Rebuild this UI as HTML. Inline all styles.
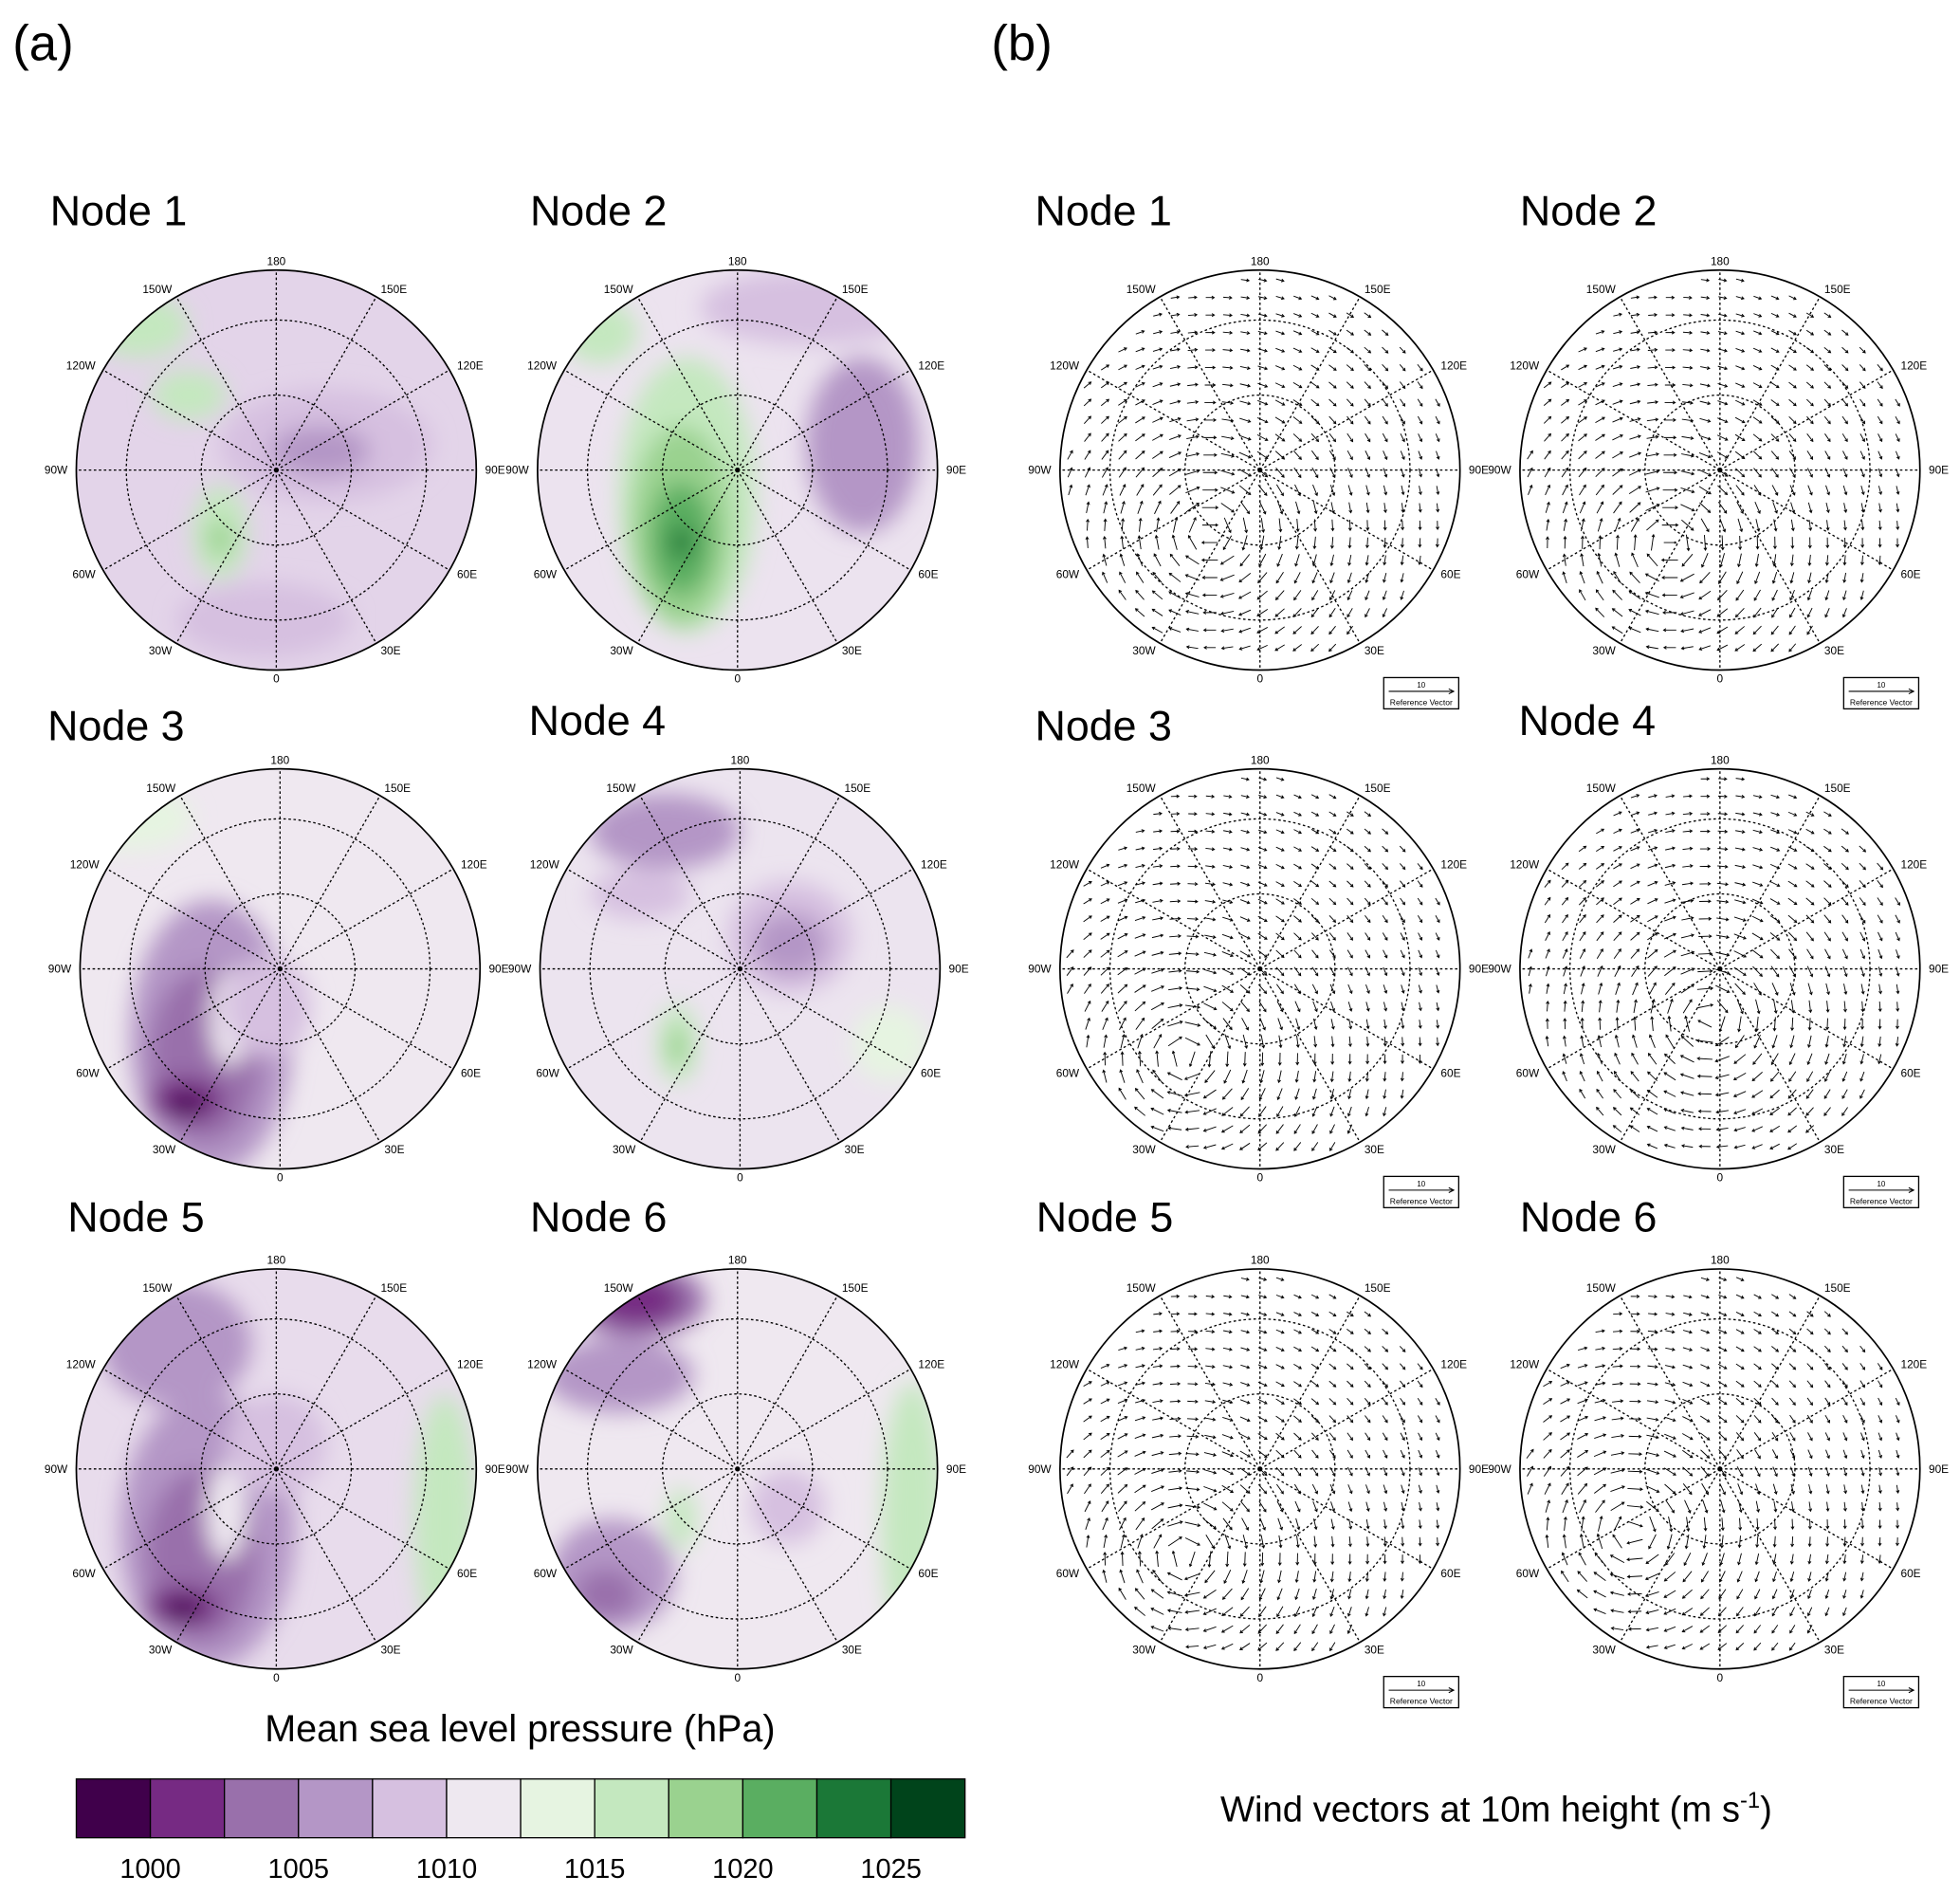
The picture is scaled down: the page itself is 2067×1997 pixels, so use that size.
<!DOCTYPE html>
<html><head><meta charset="utf-8"><style>
html,body{margin:0;padding:0;background:#fff}
svg{display:block}
text{font-family:"Liberation Sans",sans-serif}
</style></head><body>
<svg id="fig" width="2067" height="1997" viewBox="0 0 1568 1515" xmlns="http://www.w3.org/2000/svg">
<defs><filter id="blur" x="-50%" y="-50%" width="200%" height="200%"><feGaussianBlur stdDeviation="9"/></filter></defs>
<text x="10" y="48" font-size="40">(a)</text>
<text x="793" y="48" font-size="40">(b)</text>
<g id="maps"></g>
<text x="416" y="1393" font-size="30" text-anchor="middle">Mean sea level pressure (hPa)</text>
<g id="cbar"></g>
<text x="1197" y="1457" font-size="29" text-anchor="middle">Wind vectors at 10m height (m s<tspan dy="-11" font-size="18">-1</tspan><tspan dy="11">)</tspan></text>
</svg>
<script>
const levels=[1000,1005,1010,1015,1020,1025];
const cbColors=["#40004b","#762a83","#9970ab","#b496c6","#d6c0e0","#eee8f0","#e6f4e1","#c4e8bf","#9ad28f","#5aae61","#1b7837","#00441b"];
const nodeNames=["Node 1","Node 2","Node 3","Node 4","Node 5","Node 6"];
const nodeBase=["#e3d4e9","#ece3ef","#efe8f0","#ece4ef","#e8dcec","#efe8f0"];
// blobs: [node, dx, dy, rx, ry, colorIndex]
const blobs=[
[0,-110,-115,40,25,7],[0,-70,-60,30,20,7],[0,40,-20,85,45,4],[0,35,-15,40,20,3],[0,-45,50,22,38,7],[0,-45,55,10,14,8],[0,-10,120,70,30,4],
[1,-40,20,55,110,7],[1,-45,45,40,80,8],[1,-45,55,25,45,9],[1,-45,58,10,12,10],[1,100,-20,45,70,3],[1,60,-130,90,30,4],[1,-110,-110,30,25,7],
[2,-120,-120,50,25,6],[2,-55,55,65,110,3],[2,-60,70,45,70,2],[2,-75,105,30,18,1],[2,-75,108,14,8,0],[2,-40,40,16,38,5],[2,-10,30,35,40,4],
[3,-60,-110,60,30,3],[3,-80,-60,40,20,4],[3,40,-25,50,45,4],[3,40,-20,30,25,3],[3,-50,60,16,32,7],[3,-50,62,8,15,8],[3,120,60,30,30,6],
[4,-80,-100,60,50,3],[4,-55,50,70,110,3],[4,-60,70,45,70,2],[4,-75,110,30,16,1],[4,-75,112,14,8,0],[4,-40,35,16,38,5],[4,135,40,25,100,7],[4,0,-20,40,40,4],
[5,-80,-135,55,30,2],[5,-80,-135,35,20,1],[5,-95,-75,60,30,3],[5,-100,85,50,45,3],[5,-105,100,25,20,2],[5,-45,40,12,25,7],[5,140,40,25,110,7],[5,40,30,30,30,4]
];
const aCenters=[[221,376],[590,376],[224,775],[592,775],[221,1175],[590,1175]];
const bCenters=[[1008,376],[1376,376],[1008,775],[1376,775],[1008,1175],[1376,1175]];
const titlePos=[[40,180],[424,180],[38,592],[423,588],[54,985],[424,985]];
const titlePosB=[[828,180],[1216,180],[828,592],[1215,588],[829,985],[1216,985]];
const lonLabels=["180","150E","120E","90E","60E","30E","0","30W","60W","90W","120W","150W"];
const R=160, NS="http://www.w3.org/2000/svg";
const maps=document.getElementById('maps');
function el(t,a,p){const e=document.createElementNS(NS,t);for(const k in a)e.setAttribute(k,a[k]);(p||maps).appendChild(e);return e;}
function grid(g,cx,cy){
  [0.375,0.75].forEach(f=>{const c=el('circle',{cx,cy,r:R*f,fill:'none',stroke:'#000','stroke-width':1,'stroke-dasharray':'2,2'},g);});
  for(let i=0;i<12;i++){const a=i*Math.PI/6;const x=cx+R*Math.sin(a),y=cy-R*Math.cos(a);
    const l=el('line',{x1:cx,y1:cy,x2:x,y2:y,stroke:'#000','stroke-width':1,'stroke-dasharray':'2,2'},g);
    
    const lx=cx+(R+7)*Math.sin(a),ly=cy-(R+7)*Math.cos(a)+3;
    const t=el('text',{x:lx,y:ly,'font-size':9,'text-anchor':Math.abs(Math.sin(a))<0.3?'middle':(Math.sin(a)>0?'start':'end')},g);
    
    t.textContent=lonLabels[i];}
  const o=el('circle',{cx,cy,r:R,fill:'none',stroke:'#000','stroke-width':1.3},g);
  
}
aCenters.forEach(([cx,cy],n)=>{
  const g=el('g',{});
  const clip=el('clipPath',{id:'c'+n},g);
  el('circle',{cx,cy,r:R},clip);
  const inner=el('g',{'clip-path':'url(#c'+n+')'},g);
  el('rect',{x:cx-R,y:cy-R,width:2*R,height:2*R,fill:nodeBase[n]},inner);
  const bg=el('g',{filter:'url(#blur)'},inner);
  blobs.filter(b=>b[0]===n).forEach(b=>{const e=el('ellipse',{cx:cx+b[1],cy:cy+b[2],rx:b[3],ry:b[4],fill:cbColors[b[5]]},bg);
    });
  grid(g,cx,cy);
  const t=el('text',{x:titlePos[n][0],y:titlePos[n][1],'font-size':34},g);
  t.textContent=nodeNames[n];
});
bCenters.forEach(([cx,cy],n)=>{
  const g=el('g',{});
  const ag=el('g',{stroke:'#000','stroke-width':0.7,fill:'none'},g);
  const vc=[[-40,50],[-40,60],[-60,70],[-10,40],[-60,70],[-70,50]][n];
  for(let y=-R+8;y<R;y+=14)for(let x=-R+8;x<R;x+=14){
    if(x*x+y*y>(R-6)*(R-6))continue;
    const dx=x-vc[0],dy=y-vc[1];const d=Math.hypot(dx,dy)+1;
    let ux=-dy/d,uy=dx/d;const L=2.5+5*Math.exp(-d/110);
    const x0=cx+x-ux*L,y0=cy+y-uy*L,x1=cx+x+ux*L,y1=cy+y+uy*L;
    const p=el('path',{d:`M${x0},${y0}L${x1},${y1}M${x1-ux*2-uy*1.2},${y1-uy*2+ux*1.2}L${x1},${y1}L${x1-ux*2+uy*1.2},${y1-uy*2-ux*1.2}`},ag);
    }
  grid(g,cx,cy);
  const t=el('text',{x:titlePosB[n][0],y:titlePosB[n][1],'font-size':34},g);
  t.textContent=nodeNames[n];
  const bx=cx+99,by=cy+166;
  const rb=el('rect',{x:bx,y:by,width:60,height:25,fill:'#fff',stroke:'#000','stroke-width':1},g);
  
  el('path',{d:`M${bx+4},${by+11}H${bx+56}M${bx+52},${by+9}L${bx+56},${by+11}L${bx+52},${by+13}`,stroke:'#000',fill:'none','stroke-width':0.8},g);
  const t1=el('text',{x:bx+30,y:by+8,'font-size':6,'text-anchor':'middle'},g);t1.textContent='10';
  
  const t2=el('text',{x:bx+30,y:by+22,'font-size':6.5,'text-anchor':'middle'},g);t2.textContent='Reference Vector';
  
});
const cb=document.getElementById('cbar');
const x0=61,x1=772,w=(x1-x0)/cbColors.length;
cbColors.forEach((c,i)=>{const r=el('rect',{x:x0+i*w,y:1423,width:w,height:47,fill:c,stroke:'#000','stroke-width':1},cb);
  });
levels.forEach((v,i)=>{const t=el('text',{x:x0+(i*2+1)*w,y:1502,'font-size':22,'text-anchor':'middle'},cb);
  t.textContent=v;});
</script>
</body></html>
